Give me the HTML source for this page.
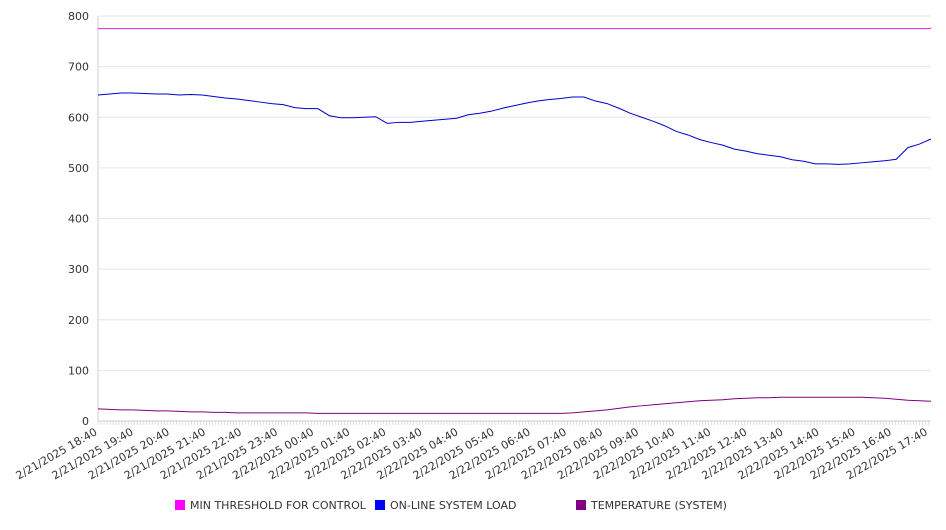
<!DOCTYPE html>
<html><head><meta charset="utf-8"><style>
body{margin:0;background:#fff;font-family:"DejaVu Sans","Liberation Sans",sans-serif}
svg text{font-family:"DejaVu Sans","Liberation Sans",sans-serif;font-size:11px;fill:#333}
</style></head><body>
<svg id="c" width="946" height="526"></svg>
<script>
const yTicks=[0,100,200,300,400,500,600,700,800];
const xLabels=["2/21/2025 18:40","2/21/2025 19:40","2/21/2025 20:40","2/21/2025 21:40","2/21/2025 22:40","2/21/2025 23:40","2/22/2025 00:40","2/22/2025 01:40","2/22/2025 02:40","2/22/2025 03:40","2/22/2025 04:40","2/22/2025 05:40","2/22/2025 06:40","2/22/2025 07:40","2/22/2025 08:40","2/22/2025 09:40","2/22/2025 10:40","2/22/2025 11:40","2/22/2025 12:40","2/22/2025 13:40","2/22/2025 14:40","2/22/2025 15:40","2/22/2025 16:40","2/22/2025 17:40"];
const loadValues=[644,646,648,648,647,646,646,644,645,644,641,638,636,633,630,627,625,619,617,617,603,599,599,600,601,588,590,590,592,594,596,598,605,608,612,618,623,628,632,635,637,640,640,632,627,618,608,600,592,583,572,565,556,550,545,537,533,528,525,522,516,513,508,508,507,508,510,512,514,517,540,547,557];
const tempValues=[24,23,22,22,21,20,20,19,18,18,17,17,16,16,16,16,16,16,16,15,15,15,15,15,15,15,15,15,15,15,15,15,15,15,15,15,15,15,15,15,15,16,18,20,22,25,28,30,32,34,36,38,40,41,42,44,45,46,46,47,47,47,47,47,47,47,47,46,45,43,41,40,39];
const thresholdValues=new Array(73).fill(775);
const NS="http://www.w3.org/2000/svg",svg=document.getElementById('c');
const X0=98,X1=931,Y0=421,Y1=16,LBL=36.1;
const ys=v=>Y0-(v/800)*(Y0-Y1);
const xs=k=>X0+k*(X1-X0)/72;
function el(t,a,p){const e=document.createElementNS(NS,t);for(const k in a)e.setAttribute(k,a[k]);(p||svg).appendChild(e);return e;}
yTicks.forEach(v=>{
 const g=el('line',{x1:X0,x2:X1,y1:ys(v),y2:ys(v),stroke:'#e6e6e6'});
 
 
 const t=el('text',{x:89,y:ys(v)+4,'text-anchor':'end'});t.textContent=v;
 
 
});
const ax=el('line',{x1:X0,x2:X0,y1:Y1,y2:Y0,stroke:'#ccc'});


const bx=el('line',{x1:X0,x2:X1,y1:Y0,y2:Y0,stroke:'#ccc'});


for(let x=X0;x<=X1;x+=LBL/12){el('line',{x1:x,x2:x,y1:Y0,y2:Y0+4,stroke:'#ccc','stroke-width':0.6});}
xLabels.forEach((l,i)=>{
 const x=X0+i*LBL;
 const t=el('text',{x:x,y:Y0+13,'text-anchor':'end',transform:`rotate(-30 ${x} ${Y0+13})`});t.textContent=l;
 
 
});
function series(vals,color,name){
 const p=el('polyline',{points:vals.map((v,k)=>xs(k)+','+ys(v)).join(' '),fill:'none',stroke:color,'stroke-width':1});
 
 
}
series(thresholdValues,'#e020e0','threshold-line');
series(loadValues,'#0000cc','load-line');
series(tempValues,'#800080','temperature-line');
const leg=[["MIN THRESHOLD FOR CONTROL","#ff00ff",175],["ON-LINE SYSTEM LOAD","#0000ff",375],["TEMPERATURE (SYSTEM)","#800080",576]];
leg.forEach(([n,c,x])=>{
 const g=el('g',{});
 
 
 el('rect',{x:x,y:500,width:10,height:10,fill:c},g);
 const t=el('text',{x:x+15,y:509},g);t.textContent=n;
});
</script>
</body></html>
